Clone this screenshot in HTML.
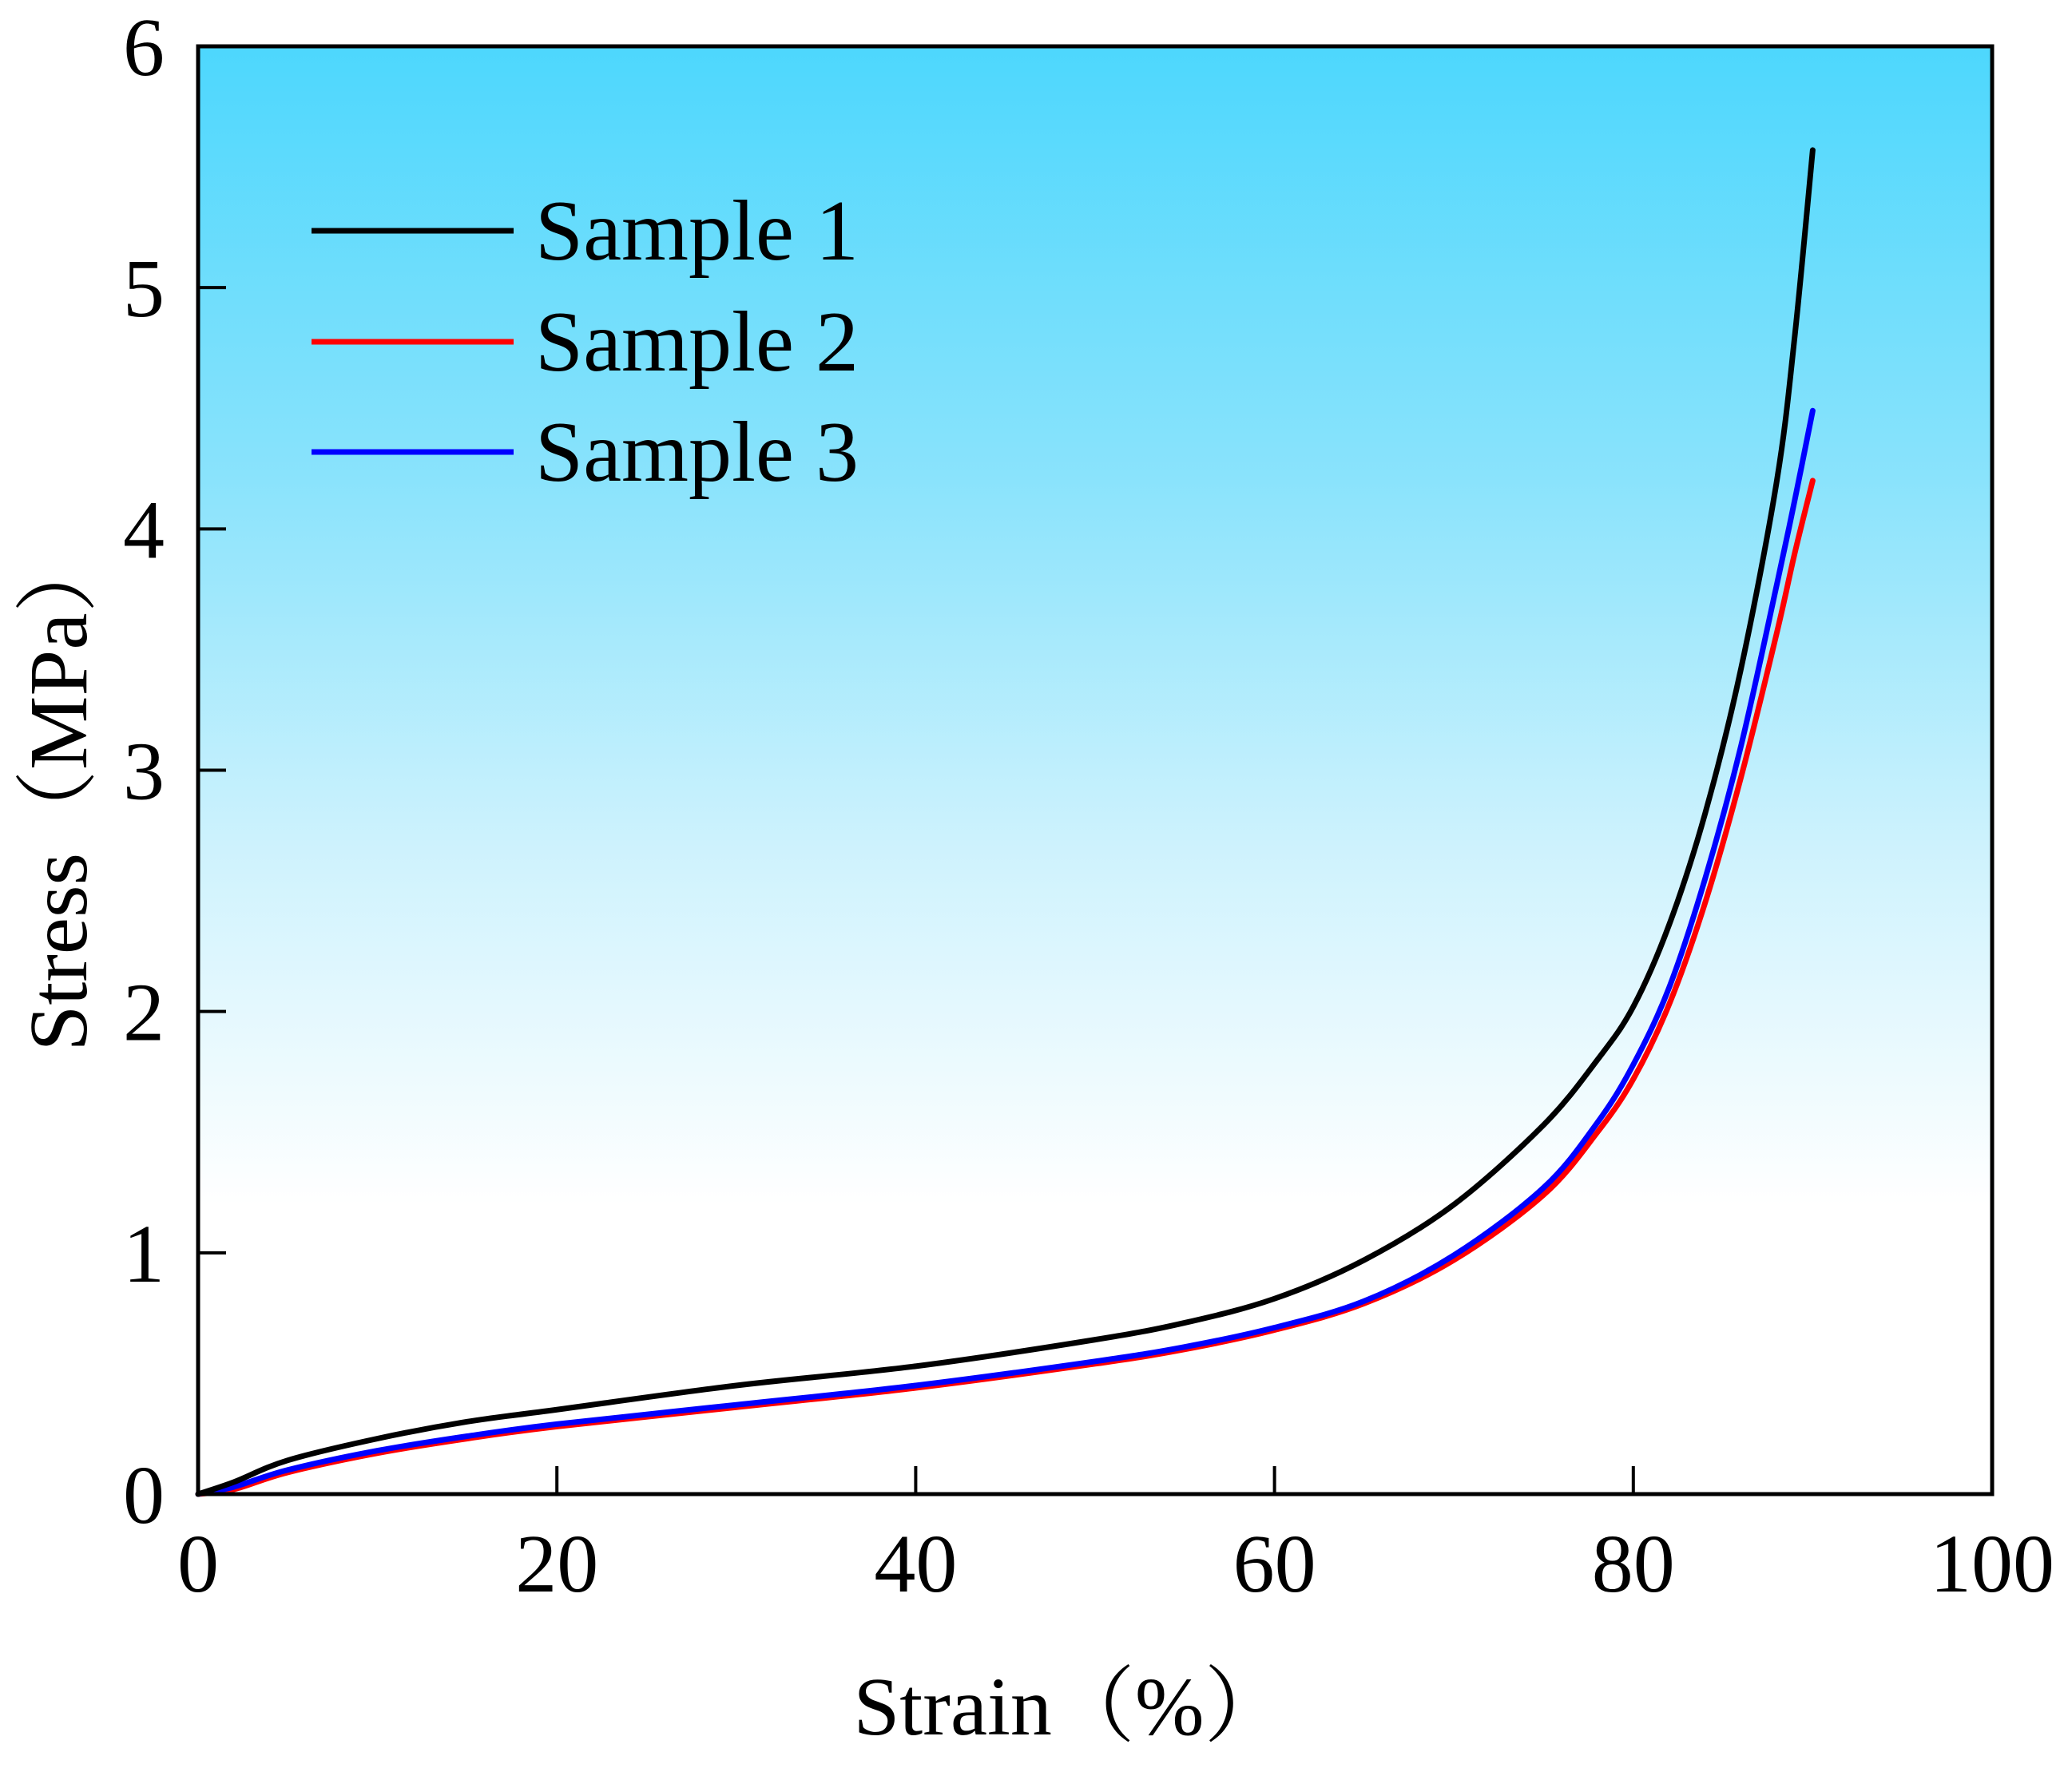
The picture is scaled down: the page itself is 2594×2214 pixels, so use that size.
<!DOCTYPE html>
<html><head><meta charset="utf-8">
<style>
html,body{margin:0;padding:0;background:#fff;}
svg{display:block;}
text{font-family:"Liberation Serif","Noto Serif CJK SC",serif;fill:#000;}
</style></head>
<body>
<svg id="chart" width="2594" height="2214" viewBox="0 0 2594 2214" xmlns="http://www.w3.org/2000/svg">
<defs>
<linearGradient id="bg" x1="0" y1="0" x2="0" y2="1">
<stop offset="0" stop-color="#4dd7fd"/>
<stop offset="0.3" stop-color="#8ae3fc"/>
<stop offset="0.55" stop-color="#cdf2fd"/>
<stop offset="0.8" stop-color="#ffffff"/>
<stop offset="1" stop-color="#ffffff"/>
</linearGradient>
</defs>
<rect x="248" y="58" width="2246" height="1813" fill="url(#bg)"/>
<g id="ticks"></g>
<g id="series"></g>
<rect x="248" y="58" width="2246" height="1813" fill="none" stroke="#000" stroke-width="5"/>
<g>
<line x1="390" y1="289" x2="643" y2="289" stroke="#000" stroke-width="7"/>
<text x="670" y="325" font-size="108">Sample 1</text>
<line x1="390" y1="428" x2="643" y2="428" stroke="#ff0000" stroke-width="7"/>
<text x="670" y="464" font-size="108">Sample 2</text>
<line x1="390" y1="566" x2="643" y2="566" stroke="#0000ff" stroke-width="7"/>
<text x="670" y="602" font-size="108">Sample 3</text>
</g>
<text x="1340" y="2172" font-size="104" text-anchor="middle">Strain（%）</text>
<text transform="translate(108,990) rotate(-90)" font-size="104" text-anchor="middle">Stress（MPa）</text>
</svg>
<script>
const xTicks = [0, 20, 40, 60, 80, 100];
const yTicks = [0, 1, 2, 3, 4, 5, 6];
const strain1 = [0, 2, 5, 10, 15, 20, 30, 40, 50, 55, 60, 65, 70, 75, 78, 80, 82, 84, 86, 88, 89, 90];
const stress1 = [0, 0.05, 0.14, 0.23, 0.30, 0.35, 0.45, 0.53, 0.64, 0.71, 0.81, 0.97, 1.20, 1.53, 1.80, 2.02, 2.36, 2.82, 3.42, 4.20, 4.80, 5.57];
const strain2 = [0, 2, 5, 10, 15, 20, 30, 40, 50, 55, 60, 65, 70, 75, 78, 80, 82, 84, 86, 88, 89, 90];
const stress2 = [0, 0.02, 0.09, 0.17, 0.23, 0.28, 0.36, 0.44, 0.54, 0.60, 0.68, 0.79, 0.97, 1.24, 1.50, 1.72, 2.03, 2.45, 2.97, 3.57, 3.90, 4.20];
const strain3 = [0, 2, 5, 10, 15, 20, 30, 40, 50, 55, 60, 65, 70, 75, 78, 80, 82, 84, 86, 88, 89, 90];
const stress3 = [0, 0.03, 0.10, 0.18, 0.24, 0.29, 0.37, 0.45, 0.55, 0.61, 0.69, 0.80, 0.99, 1.27, 1.54, 1.78, 2.10, 2.55, 3.10, 3.77, 4.12, 4.49];

const X0 = 248, X1 = 2494, Y0 = 1871, Y1 = 58;
function sx(v){ return X0 + (v - 0) / 100 * (X1 - X0); }
function sy(v){ return Y0 - (v - 0) / 6 * (Y0 - Y1); }
const NS = "http://www.w3.org/2000/svg";
const tg = document.getElementById('ticks');
xTicks.forEach(t => {
  const l = document.createElementNS(NS, 'line');
  l.setAttribute('x1', sx(t)); l.setAttribute('x2', sx(t));
  l.setAttribute('y1', Y0); l.setAttribute('y2', Y0 - 35);
  l.setAttribute('stroke', '#000'); l.setAttribute('stroke-width', '4');
  
  
  tg.appendChild(l);
  const tx = document.createElementNS(NS, 'text');
  tx.setAttribute('x', sx(t)); tx.setAttribute('y', 1993);
  tx.setAttribute('font-size', '104'); tx.setAttribute('text-anchor', 'middle');
  tx.textContent = t;
  
  
  tg.appendChild(tx);
});
yTicks.forEach(t => {
  const l = document.createElementNS(NS, 'line');
  l.setAttribute('x1', X0); l.setAttribute('x2', X0 + 35);
  l.setAttribute('y1', sy(t)); l.setAttribute('y2', sy(t));
  l.setAttribute('stroke', '#000'); l.setAttribute('stroke-width', '4');
  
  
  tg.appendChild(l);
  const tx = document.createElementNS(NS, 'text');
  tx.setAttribute('x', 206); tx.setAttribute('y', sy(t) + 36);
  tx.setAttribute('font-size', '104'); tx.setAttribute('text-anchor', 'end');
  tx.textContent = t;
  
  
  tg.appendChild(tx);
});
function smoothPath(xs, ys){
  const p = xs.map((x,i)=>[sx(x), sy(ys[i])]);
  let d = 'M' + p[0][0] + ',' + p[0][1];
  for (let i = 0; i < p.length - 1; i++){
    const p0 = p[Math.max(0,i-1)], p1 = p[i], p2 = p[i+1], p3 = p[Math.min(p.length-1,i+2)];
    const c1x = p1[0] + (p2[0]-p0[0])/6, c1y = p1[1] + (p2[1]-p0[1])/6;
    const c2x = p2[0] - (p3[0]-p1[0])/6, c2y = p2[1] - (p3[1]-p1[1])/6;
    d += ' C' + c1x + ',' + c1y + ' ' + c2x + ',' + c2y + ' ' + p2[0] + ',' + p2[1];
  }
  return d;
}
const sg = document.getElementById('series');
[[strain2, stress2, '#ff0000', 'sample-2-curve'], [strain3, stress3, '#0000ff', 'sample-3-curve'], [strain1, stress1, '#000000', 'sample-1-curve']].forEach(s => {
  const path = document.createElementNS(NS, 'path');
  path.setAttribute('d', smoothPath(s[0], s[1]));
  path.setAttribute('fill', 'none');
  path.setAttribute('stroke', s[2]);
  path.setAttribute('stroke-width', '7');
  path.setAttribute('stroke-linecap', 'round');
  
  
  sg.appendChild(path);
});
</script>
</body></html>
